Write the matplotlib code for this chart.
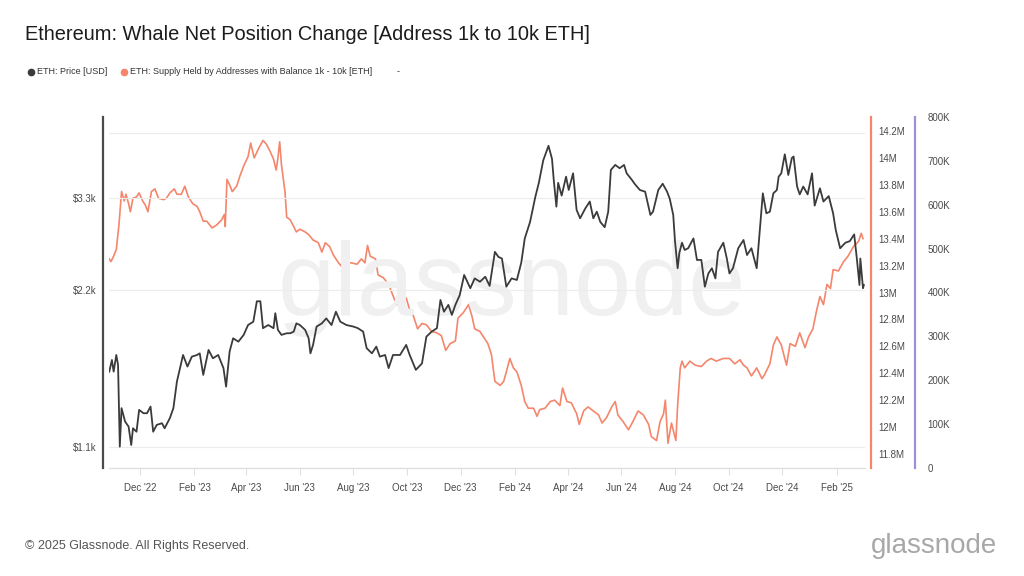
import pandas as pd
import matplotlib.pyplot as plt
import matplotlib.dates as mdates
from matplotlib.lines import Line2D
from matplotlib.ticker import FixedLocator, FixedFormatter

plt.rcParams['font.family'] = ['Liberation Sans', 'DejaVu Sans']

# days counted from 1 Dec 2022
price_days = [-35, -32, -30, -27, -25, -23, -21, -17, -13, -10,
              -8, -4, -1, 4, 8, 12, 15, 19, 25, 28,
              34, 38, 42, 46, 49, 54, 59, 65, 68, 72,
              78, 83, 89, 95, 98, 102, 106, 112, 118, 123,
              129, 133, 137, 140, 146, 152, 154, 157, 161, 167,
              171, 175, 178, 182, 188, 192, 194, 197, 201, 207,
              212, 218, 223, 228, 235, 243, 248, 254, 258, 264,
              269, 273, 279, 283, 288, 296, 303, 307, 314, 321,
              326, 332, 338, 342, 346, 351, 355, 359, 364, 369,
              376, 381, 387, 393, 398, 404, 408, 412, 417, 423,
              429, 434, 438, 444, 450, 454, 459, 465, 469, 471,
              474, 476, 480, 485, 488, 493, 497, 501, 507, 512,
              516, 520, 524, 529, 533, 536, 541, 546, 551, 554,
              560, 563, 569, 575, 581, 584, 590, 595, 600, 603,
              607, 609, 612, 614, 617, 620, 624, 630, 634, 639,
              643, 647, 651, 655, 658, 664, 668, 671, 675, 681,
              687, 691, 696, 702, 706, 709, 713, 717, 721, 725,
              727, 730, 734, 738, 742, 744, 748, 751, 755, 760,
              765, 768, 774, 778, 784, 789, 792, 797, 803, 808,
              813, 816, 819, 820, 823, 824]
price_usd = [1535, 1616, 1535, 1652, 1581, 1103, 1307, 1232, 1205, 1111,
             1196, 1178, 1297, 1278, 1278, 1316, 1178, 1214, 1223, 1196,
             1251, 1307, 1469, 1570, 1652, 1570, 1640, 1652, 1664, 1513,
             1689, 1628, 1652, 1559, 1437, 1677, 1778, 1752, 1805, 1885,
             1913, 2093, 2093, 1859, 1885, 1859, 1986, 1845, 1805, 1818,
             1818, 1831, 1899, 1885, 1845, 1778, 1664, 1727, 1872, 1899,
             1941, 1885, 1999, 1913, 1885, 1872, 1859, 1831, 1702, 1664,
             1714, 1640, 1652, 1559, 1652, 1652, 1727, 1652, 1547, 1592,
             1791, 1831, 1859, 2105, 1999, 2060, 1971, 2060, 2152, 2350,
             2217, 2315, 2281, 2332, 2240, 2602, 2545, 2527, 2232, 2315,
             2299, 2481, 2761, 2968, 3315, 3527, 3893, 4152, 3920, 3572,
             3175, 3527, 3334, 3624, 3418, 3678, 3130, 3017, 3153, 3248,
             3017, 3106, 2968, 2901, 3106, 3733, 3817, 3762, 3817, 3678,
             3572, 3513, 3418, 3392, 3062, 3106, 3418, 3513, 3392, 3290,
             3062, 2728, 2421, 2592, 2709, 2624, 2644, 2761, 2511, 2511,
             2232, 2366, 2421, 2315, 2602, 2709, 2527, 2366, 2421, 2644,
             2742, 2566, 2644, 2421, 2933, 3368, 3084, 3106, 3368, 3418,
             3624, 3678, 4000, 3651, 3934, 3961, 3470, 3352, 3470, 3352,
             3678, 3190, 3443, 3248, 3327, 3084, 2866, 2644, 2709, 2728,
             2810, 2527, 2249, 2527, 2217, 2249]

supply_days = [-35, -33, -30, -27, -24, -21, -18, -16, -13, -11,
               -8, -4, -1, 3, 6, 9, 13, 17, 21, 27,
               30, 34, 39, 42, 47, 51, 55, 60, 65, 68,
               72, 76, 82, 87, 93, 96, 97, 99, 102, 105,
               110, 114, 118, 123, 126, 130, 135, 140, 144, 148,
               152, 155, 157, 159, 161, 165, 167, 171, 175, 178,
               182, 188, 192, 197, 203, 207, 211, 216, 220, 226,
               230, 235, 241, 247, 252, 256, 259, 262, 268, 271,
               277, 283, 286, 292, 298, 303, 307, 311, 316, 321,
               326, 332, 338, 343, 348, 353, 359, 362, 368, 374,
               378, 381, 387, 393, 396, 400, 404, 410, 414, 417,
               421, 425, 429, 434, 438, 442, 448, 452, 455, 461,
               467, 472, 478, 481, 486, 491, 497, 500, 505, 510,
               516, 522, 526, 531, 537, 541, 544, 550, 556, 561,
               567, 573, 579, 582, 588, 592, 596, 598, 601, 605,
               610, 612, 615, 617, 620, 626, 632, 639, 645, 650,
               656, 664, 671, 677, 683, 687, 691, 696, 702, 708,
               711, 717, 721, 725, 730, 736, 740, 746, 751, 757,
               761, 766, 770, 774, 778, 782, 786, 789, 795, 801,
               806, 812, 818, 821, 823]
supply_m = [13.25, 13.23, 13.27, 13.32, 13.50, 13.75, 13.68, 13.73, 13.66, 13.60,
            13.70, 13.71, 13.74, 13.68, 13.65, 13.60, 13.75, 13.77, 13.70, 13.69,
            13.70, 13.74, 13.77, 13.73, 13.73, 13.79, 13.71, 13.66, 13.64, 13.60,
            13.53, 13.53, 13.48, 13.50, 13.54, 13.58, 13.49, 13.84, 13.80, 13.75,
            13.79, 13.87, 13.94, 14.01, 14.11, 14.00, 14.07, 14.13, 14.10, 14.05,
            13.99, 13.91, 14.00, 14.12, 13.95, 13.75, 13.56, 13.54, 13.49, 13.45,
            13.47, 13.45, 13.43, 13.39, 13.37, 13.30, 13.37, 13.34, 13.28, 13.22,
            13.19, 13.22, 13.22, 13.21, 13.25, 13.22, 13.35, 13.27, 13.25, 13.13,
            13.11, 13.06, 13.01, 12.91, 12.94, 12.96, 12.87, 12.83, 12.73, 12.77,
            12.76, 12.71, 12.70, 12.68, 12.57, 12.62, 12.64, 12.81, 12.85, 12.91,
            12.82, 12.73, 12.71, 12.65, 12.62, 12.54, 12.34, 12.31, 12.34, 12.41,
            12.51, 12.44, 12.41, 12.31, 12.19, 12.14, 12.14, 12.08, 12.13, 12.14,
            12.19, 12.20, 12.16, 12.29, 12.19, 12.18, 12.10, 12.02, 12.12, 12.15,
            12.12, 12.09, 12.03, 12.07, 12.15, 12.19, 12.09, 12.04, 11.98, 12.04,
            12.12, 12.09, 12.02, 11.93, 11.90, 12.04, 12.10, 12.20, 11.88, 12.03,
            11.90, 12.16, 12.44, 12.49, 12.44, 12.49, 12.46, 12.45, 12.49, 12.51,
            12.49, 12.51, 12.51, 12.47, 12.50, 12.46, 12.44, 12.38, 12.44, 12.36,
            12.39, 12.47, 12.61, 12.67, 12.61, 12.46, 12.62, 12.60, 12.70, 12.59,
            12.67, 12.73, 12.86, 12.97, 12.91, 13.06, 13.03, 13.17, 13.16, 13.23,
            13.27, 13.34, 13.38, 13.44, 13.40]

price_ticks = [1100, 2200, 3300, 4400]
price_labels = ['$1.1k', '$2.2k', '$3.3k', '']
supply_ticks = [11.8, 12.0, 12.2, 12.4, 12.6, 12.8, 13.0, 13.2, 13.4, 13.6, 13.8, 14.0, 14.2]
supply_labels = ['11.8M', '12M', '12.2M', '12.4M', '12.6M', '12.8M', '13M',
                 '13.2M', '13.4M', '13.6M', '13.8M', '14M', '14.2M']
third_ticks = [0, 100, 200, 300, 400, 500, 600, 700, 800]
third_labels = ['0', '100K', '200K', '300K', '400K', '500K', '600K', '700K', '800K']

BLACK = '#3b3b3b'
ORANGE = '#f4866c'
PURPLE = '#9d90d8'
GREY = '#4a4a4a'

day0 = pd.Timestamp('2022-12-01')
price_dates = day0 + pd.to_timedelta(price_days, unit='D')
supply_dates = day0 + pd.to_timedelta(supply_days, unit='D')

fig = plt.figure(figsize=(10.24, 5.76), dpi=100)
fig.patch.set_facecolor('white')

ax = fig.add_axes([109 / 1024, 1 - 468 / 576, (865 - 109) / 1024, (468 - 117) / 576])
ax2 = ax.twinx()
ax3 = ax.twinx()

# watermark
ax.text(512 / 1024, 1 - 315 / 576, 'glassnode', transform=fig.transFigure,
        ha='center', va='baseline', fontsize=74, color='#f0f0f0', zorder=0)

ax.plot(price_dates, price_usd, color=BLACK, lw=1.3, zorder=3)
ax2.plot(supply_dates, supply_m, color=ORANGE, lw=1.2, zorder=2)
ax.set_zorder(2)
ax.patch.set_visible(False)

ax.set_yscale('log')
ax.set_ylim(1004, 4714)
ax.yaxis.set_major_locator(FixedLocator(price_ticks))
ax.yaxis.set_major_formatter(FixedFormatter(price_labels))
ax.yaxis.set_minor_locator(FixedLocator([]))
ax.grid(axis='y', color='#ececec', lw=0.8)

ax2.set_ylim(11.696, 14.304)
ax2.set_yticks(supply_ticks)
ax2.set_yticklabels(supply_labels)

ax3.set_ylim(0, 800)
ax3.set_yticks(third_ticks)
ax3.set_yticklabels(third_labels)

ax.set_xlim(day0 - pd.Timedelta(days=35.3), day0 + pd.Timedelta(days=825.3))
ax.xaxis.set_major_locator(mdates.MonthLocator(bymonth=[2, 4, 6, 8, 10, 12]))
ax.xaxis.set_major_formatter(mdates.DateFormatter("%b '%y"))

for a in (ax, ax2, ax3):
    a.spines['top'].set_visible(False)
ax.spines['right'].set_visible(False)
ax2.spines['left'].set_visible(False)
ax2.spines['bottom'].set_visible(False)
ax3.spines['left'].set_visible(False)
ax3.spines['bottom'].set_visible(False)

ax.spines['left'].set_position(('outward', 4.3))
ax.spines['left'].set_color(GREY)
ax.spines['left'].set_linewidth(1.6)
ax.spines['bottom'].set_color('#dedede')
ax.spines['bottom'].set_linewidth(0.9)

ax2.spines['right'].set_position(('outward', 4.3))
ax2.spines['right'].set_color(ORANGE)
ax2.spines['right'].set_linewidth(1.6)

ax3.spines['right'].set_position(('outward', 36))
ax3.spines['right'].set_color(PURPLE)
ax3.spines['right'].set_linewidth(1.6)

ax.tick_params(axis='y', length=0, pad=5, labelsize=7, labelcolor=GREY)
ax.tick_params(axis='x', length=5, width=0.8, color='#dedede', pad=6,
               labelsize=7, labelcolor=GREY)
ax2.tick_params(axis='y', length=0, pad=5, labelsize=7, labelcolor=GREY)
ax3.tick_params(axis='y', length=0, pad=9, labelsize=7, labelcolor=GREY)

# title, legend and footer
fig.text(25 / 1024, 1 - 35 / 576, 'Ethereum: Whale Net Position Change [Address 1k to 10k ETH]',
         fontsize=14.4, color='#1c1c1c', va='center')

leg_y = 1 - 72 / 576
fig.add_artist(Line2D([31 / 1024], [leg_y], marker='o', markersize=4.5, color=BLACK,
                      lw=0, transform=fig.transFigure))
fig.text(37 / 1024, leg_y, 'ETH: Price [USD]', fontsize=6.5, color='#333333', va='center')
fig.add_artist(Line2D([124 / 1024], [leg_y], marker='o', markersize=4.5, color=ORANGE,
                      lw=0, transform=fig.transFigure))
fig.text(130 / 1024, leg_y, 'ETH: Supply Held by Addresses with Balance 1k - 10k [ETH]',
         fontsize=6.5, color='#333333', va='center')
fig.text(397 / 1024, leg_y, '-', fontsize=6.5, color='#333333', va='center')

fig.text(25 / 1024, 1 - 546 / 576, '\u00a9 2025 Glassnode. All Rights Reserved.',
         fontsize=9, color='#555555', va='center')
fig.text(997 / 1024, 1 - 546 / 576, 'glassnode', fontsize=20, color='#a8a8a8',
         ha='right', va='center')

fig.savefig('out.png', dpi=100, facecolor='white')
